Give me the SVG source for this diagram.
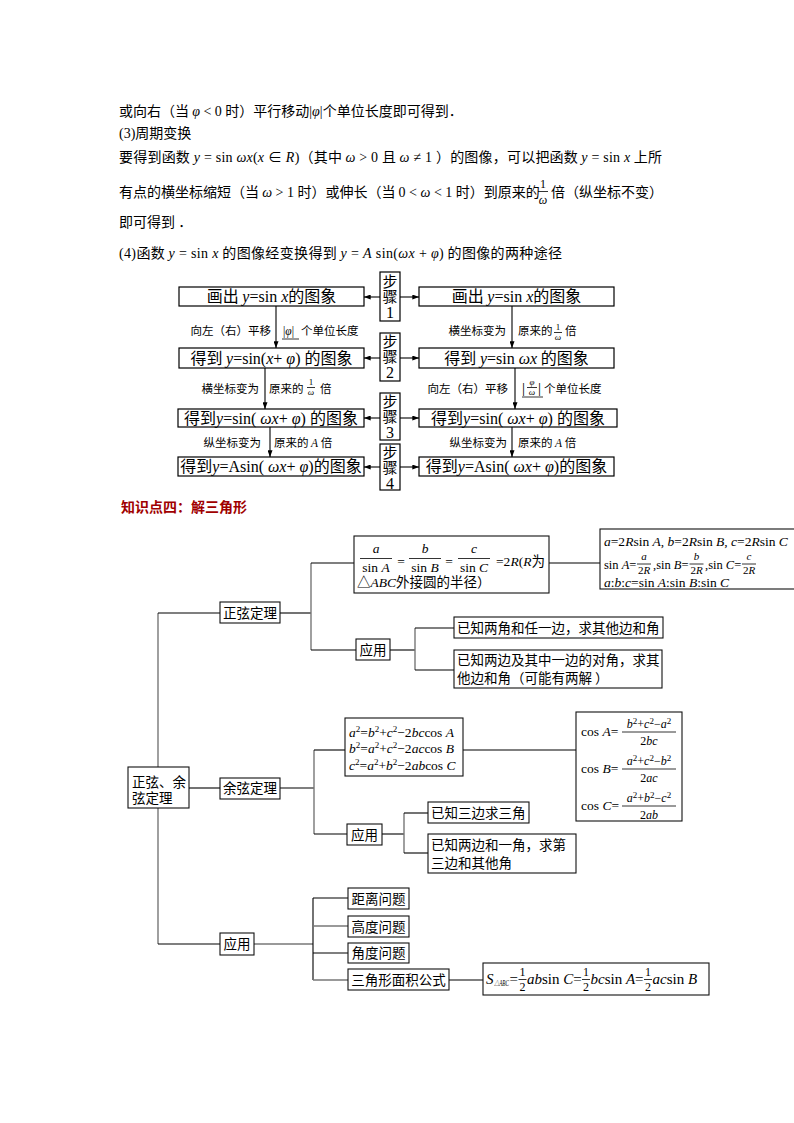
<svg xmlns="http://www.w3.org/2000/svg" width="794" height="1123" viewBox="0 0 794 1123">
<defs>
<style>
text { font-family: "Noto Sans CJK SC", sans-serif; fill:#000; }
.m { font-family: "Liberation Serif", "Noto Sans CJK SC", serif; }
.i { font-style: italic; }
.body { font-size:14px; }
.fb { font-size:16px; }
.st { font-size:15px; }
.stn { font-size:16px; font-family: "Liberation Serif", serif; }
.lb { font-size:11.5px; }
.fr { font-size:9px; font-family: "Liberation Serif", serif; }
.tc { font-size:13.5px; }
.f { font-size:13.5px; font-family: "Liberation Serif", "Noto Sans CJK SC", serif; }
.fs { font-size:12.5px; font-family: "Liberation Serif", serif; }
.fa { font-size:15px; font-family: "Liberation Serif", serif; }
.ff { font-size:12px; font-family: "Liberation Serif", serif; }
.fq { font-size:11px; font-family: "Liberation Serif", serif; }
.sup { font-size:9px; }
.box { fill:#fff; stroke:#000; stroke-width:1.2; }
.tb { fill:#fff; stroke:#111; stroke-width:1.1; }
.ln { stroke:#000; stroke-width:1.1; fill:none; }
.gl { stroke:#777; stroke-width:1.4; fill:none; }
.fl { stroke:#000; stroke-width:0.8; }
.title { font-size:14px; font-weight:bold; fill:#a00000; }
</style>
<marker id="ah" viewBox="0 0 8 6" refX="8" refY="3" markerWidth="7" markerHeight="5" orient="auto" markerUnits="userSpaceOnUse">
<path d="M0,0 L8,3 L0,6 z" fill="#000"/>
</marker>
</defs>
<rect width="794" height="1123" fill="#fff"/>

<g id="body-text">
<text class="body" x="119" y="116">或向右（当 <tspan class="m i">φ</tspan><tspan class="m"> &lt; 0 </tspan>时）平行移动<tspan class="m">|</tspan><tspan class="m i">φ</tspan><tspan class="m">|</tspan>个单位长度即可得到．</text>
<text class="body" x="119" y="138"><tspan class="m">(3)</tspan>周期变换</text>
<text class="body" x="119" y="162" textLength="543" lengthAdjust="spacing">要得到函数<tspan class="m i"> y</tspan><tspan class="m"> = sin </tspan><tspan class="m i">ωx</tspan><tspan class="m">(</tspan><tspan class="m i">x</tspan><tspan class="m"> ∈ </tspan><tspan class="m i">R</tspan><tspan class="m">)</tspan>（其中 <tspan class="m i">ω</tspan><tspan class="m"> &gt; 0 </tspan>且 <tspan class="m i">ω</tspan><tspan class="m"> ≠ 1 </tspan>）的图像，可以把函数 <tspan class="m i">y</tspan><tspan class="m"> = sin </tspan><tspan class="m i">x</tspan> 上所</text>
<text class="body" x="119" y="197">有点的横坐标缩短（当 <tspan class="m i">ω</tspan><tspan class="m"> &gt; 1 </tspan>时）或伸长（当 <tspan class="m">0 &lt; </tspan><tspan class="m i">ω</tspan><tspan class="m"> &lt; 1 </tspan>时）到原来的</text>
<text class="m" font-size="12" x="543" y="188" text-anchor="middle">1</text>
<line class="fl" x1="538" y1="191.5" x2="548" y2="191.5"/>
<text class="m i" font-size="12" x="543" y="204" text-anchor="middle">ω</text>
<text class="body" x="551" y="197">倍（纵坐标不变）</text>
<text class="body" x="119" y="227">即可得到 ．</text>
<text class="body" x="119" y="258" textLength="443" lengthAdjust="spacing"><tspan class="m">(4)</tspan>函数 <tspan class="m i">y</tspan><tspan class="m"> = sin </tspan><tspan class="m i">x</tspan> 的图像经变换得到 <tspan class="m i">y</tspan><tspan class="m"> = </tspan><tspan class="m i">A</tspan><tspan class="m"> sin(</tspan><tspan class="m i">ωx</tspan><tspan class="m"> + </tspan><tspan class="m i">φ</tspan><tspan class="m">)</tspan> 的图像的两种途径</text>
</g>

<g id="flow-connectors">
<line class="ln" x1="380" y1="297" x2="364" y2="297" marker-end="url(#ah)"/>
<line class="ln" x1="400" y1="297" x2="419" y2="297" marker-end="url(#ah)"/>
<line class="ln" x1="380" y1="358" x2="364" y2="358" marker-end="url(#ah)"/>
<line class="ln" x1="400" y1="358" x2="419" y2="358" marker-end="url(#ah)"/>
<line class="ln" x1="380" y1="418" x2="364" y2="418" marker-end="url(#ah)"/>
<line class="ln" x1="400" y1="418" x2="419" y2="418" marker-end="url(#ah)"/>
<line class="ln" x1="380" y1="467" x2="364" y2="467" marker-end="url(#ah)"/>
<line class="ln" x1="400" y1="467" x2="419" y2="467" marker-end="url(#ah)"/>
<line class="ln" x1="276" y1="306" x2="276" y2="348" marker-end="url(#ah)"/>
<line class="ln" x1="512" y1="306" x2="512" y2="348" marker-end="url(#ah)"/>
<line class="ln" x1="265" y1="368" x2="265" y2="409" marker-end="url(#ah)"/>
<line class="ln" x1="515" y1="368" x2="515" y2="409" marker-end="url(#ah)"/>
<line class="ln" x1="270" y1="427" x2="270" y2="457" marker-end="url(#ah)"/>
<line class="ln" x1="512" y1="427" x2="512" y2="457" marker-end="url(#ah)"/>
</g>

<g id="flow-labels">
<text class="lb" x="271" y="335" text-anchor="end">向左（右）平移</text>
<text class="lb m" x="283" y="335">|<tspan class="i">φ</tspan>|</text>
<line class="fl" x1="282" y1="339" x2="299" y2="339"/>
<text class="lb" x="301" y="335">个单位长度</text>
<text class="lb" x="506" y="335" text-anchor="end">横坐标变为</text>
<text class="lb" x="518" y="335">原来的</text>
<text class="fr" x="558" y="330" text-anchor="middle">1</text>
<line class="fl" x1="554" y1="332.5" x2="562" y2="332.5"/>
<text class="fr i" x="558" y="340" text-anchor="middle">ω</text>
<text class="lb" x="565" y="335">倍</text>

<text class="lb" x="259" y="393" text-anchor="end">横坐标变为</text>
<text class="lb" x="269" y="393">原来的</text>
<text class="fr" x="311" y="385" text-anchor="middle">1</text>
<line class="fl" x1="307" y1="387.5" x2="315" y2="387.5"/>
<text class="fr i" x="311" y="395" text-anchor="middle">ω</text>
<text class="lb" x="320" y="393">倍</text>
<text class="lb" x="508" y="393" text-anchor="end">向左（右）平移</text>
<text class="m" font-size="15" x="522" y="393">|</text>
<text class="fr i" x="532" y="385" text-anchor="middle">φ</text>
<line class="fl" x1="527" y1="387.5" x2="537" y2="387.5"/>
<text class="fr i" x="532" y="395" text-anchor="middle">ω</text>
<text class="m" font-size="15" x="538" y="393">|</text>
<line class="fl" x1="522" y1="397" x2="543" y2="397"/>
<text class="lb" x="544" y="393">个单位长度</text>

<text class="lb" x="261" y="447" text-anchor="end">纵坐标变为</text>
<text class="lb" x="274" y="447">原来的 <tspan class="m i">A</tspan> 倍</text>
<text class="lb" x="507" y="447" text-anchor="end">纵坐标变为</text>
<text class="lb" x="518" y="447">原来的 <tspan class="m i">A</tspan> 倍</text>
</g>

<g id="flow-L1"><rect class="box" x="179" y="287" width="185" height="19"/>
<text class="fb" x="271.5" y="302" text-anchor="middle">画出 <tspan class="m i">y</tspan><tspan class="m">=sin </tspan><tspan class="m i">x</tspan>的图象</text></g>
<g id="flow-R1"><rect class="box" x="419" y="287" width="195" height="19"/>
<text class="fb" x="516.5" y="302" text-anchor="middle">画出 <tspan class="m i">y</tspan><tspan class="m">=sin </tspan><tspan class="m i">x</tspan>的图象</text></g>
<g id="flow-L2"><rect class="box" x="179" y="348" width="185" height="20"/>
<text class="fb" x="271.5" y="364" text-anchor="middle">得到 <tspan class="m i">y</tspan><tspan class="m">=sin(</tspan><tspan class="m i">x</tspan><tspan class="m">+ </tspan><tspan class="m i">φ</tspan><tspan class="m">) </tspan>的图象</text></g>
<g id="flow-R2"><rect class="box" x="419" y="348" width="195" height="20"/>
<text class="fb" x="516.5" y="364" text-anchor="middle">得到 <tspan class="m i">y</tspan><tspan class="m">=sin </tspan><tspan class="m i">ωx</tspan> 的图象</text></g>
<g id="flow-L3"><rect class="box" x="178" y="409" width="186" height="18"/>
<text class="fb" x="271" y="424" text-anchor="middle">得到<tspan class="m i">y</tspan><tspan class="m">=sin( </tspan><tspan class="m i">ωx</tspan><tspan class="m">+ </tspan><tspan class="m i">φ</tspan><tspan class="m">) </tspan>的图象</text></g>
<g id="flow-R3"><rect class="box" x="419" y="409" width="198" height="18"/>
<text class="fb" x="518" y="424" text-anchor="middle">得到<tspan class="m i">y</tspan><tspan class="m">=sin( </tspan><tspan class="m i">ωx</tspan><tspan class="m">+ </tspan><tspan class="m i">φ</tspan><tspan class="m">) </tspan>的图象</text></g>
<g id="flow-L4"><rect class="box" x="178" y="457" width="186" height="19"/>
<text class="fb" x="271" y="472" text-anchor="middle">得到<tspan class="m i">y</tspan><tspan class="m">=Asin( </tspan><tspan class="m i">ωx</tspan><tspan class="m">+ </tspan><tspan class="m i">φ</tspan><tspan class="m">)</tspan>的图象</text></g>
<g id="flow-R4"><rect class="box" x="419" y="457" width="195" height="19"/>
<text class="fb" x="516.5" y="472" text-anchor="middle">得到<tspan class="m i">y</tspan><tspan class="m">=Asin( </tspan><tspan class="m i">ωx</tspan><tspan class="m">+ </tspan><tspan class="m i">φ</tspan><tspan class="m">)</tspan>的图象</text></g>

<g id="step-1"><rect class="box" x="380" y="272" width="20" height="49"/>
<text class="st" x="390" y="287" text-anchor="middle">步</text><text class="st" x="390" y="302" text-anchor="middle">骤</text><text class="stn" x="390" y="318" text-anchor="middle">1</text></g>
<g id="step-2"><rect class="box" x="380" y="333" width="20" height="48"/>
<text class="st" x="390" y="347" text-anchor="middle">步</text><text class="st" x="390" y="362" text-anchor="middle">骤</text><text class="stn" x="390" y="378" text-anchor="middle">2</text></g>
<g id="step-3"><rect class="box" x="380" y="393" width="20" height="47"/>
<text class="st" x="390" y="407" text-anchor="middle">步</text><text class="st" x="390" y="422" text-anchor="middle">骤</text><text class="stn" x="390" y="438" text-anchor="middle">3</text></g>
<g id="step-4"><rect class="box" x="380" y="444" width="20" height="46"/>
<text class="st" x="390" y="458" text-anchor="middle">步</text><text class="st" x="390" y="473" text-anchor="middle">骤</text><text class="stn" x="390" y="489" text-anchor="middle">4</text></g>

<g id="title"><text class="title" x="121" y="512">知识点四：解三角形</text></g>

<g id="tree-connectors">
<line class="gl" x1="158" y1="613" x2="158" y2="944"/>
<line class="ln" x1="158" y1="613" x2="220" y2="613"/>
<line class="ln" x1="189" y1="788" x2="220" y2="788"/>
<line class="ln" x1="158" y1="944" x2="220" y2="944"/>
<line class="ln" x1="280" y1="613" x2="311" y2="613"/>
<line class="gl" x1="311" y1="563" x2="311" y2="650"/>
<line class="ln" x1="311" y1="563" x2="354" y2="563"/>
<line class="ln" x1="311" y1="650" x2="356" y2="650"/>
<line class="ln" x1="549" y1="563" x2="600" y2="563"/>
<line class="ln" x1="390" y1="650" x2="415" y2="650"/>
<line class="gl" x1="415" y1="628" x2="415" y2="670"/>
<line class="ln" x1="415" y1="628" x2="454" y2="628"/>
<line class="ln" x1="415" y1="670" x2="454" y2="670"/>
<line class="ln" x1="280" y1="788" x2="314" y2="788"/>
<line class="gl" x1="314" y1="750" x2="314" y2="834"/>
<line class="ln" x1="314" y1="750" x2="345" y2="750"/>
<line class="ln" x1="314" y1="834" x2="347" y2="834"/>
<line class="ln" x1="463" y1="750" x2="576" y2="750"/>
<line class="ln" x1="382" y1="834" x2="404" y2="834"/>
<line class="gl" x1="404" y1="813" x2="404" y2="853"/>
<line class="ln" x1="404" y1="813" x2="428" y2="813"/>
<line class="ln" x1="404" y1="853" x2="428" y2="853"/>
<line class="gl" x1="254" y1="944" x2="313" y2="944"/>
<line class="ln" x1="313" y1="898" x2="313" y2="980"/>
<line class="ln" x1="313" y1="898" x2="348" y2="898"/>
<line class="gl" x1="313" y1="926" x2="348" y2="926"/>
<line class="ln" x1="313" y1="953" x2="348" y2="953"/>
<line class="gl" x1="313" y1="980" x2="348" y2="980"/>
<line class="ln" x1="449" y1="980" x2="483" y2="980"/>
</g>

<g id="root"><rect class="tb" x="128" y="767" width="61" height="41"/>
<text class="tc" x="132" y="787">正弦、余</text><text class="tc" x="132" y="803">弦定理</text></g>

<g id="sine-law"><rect class="tb" x="220" y="602" width="60" height="21"/>
<text class="tc" x="250" y="617.5" text-anchor="middle">正弦定理</text></g>

<g id="sine-formula"><rect class="tb" x="354" y="536" width="195" height="57"/>
<text class="f i" x="376" y="553" text-anchor="middle">a</text>
<line class="fl" x1="360" y1="558.5" x2="392" y2="558.5"/>
<text class="f" x="376" y="572" text-anchor="middle">sin <tspan class="i">A</tspan></text>
<text class="f" x="401" y="566" text-anchor="middle">=</text>
<text class="f i" x="425" y="553" text-anchor="middle">b</text>
<line class="fl" x1="409" y1="558.5" x2="441" y2="558.5"/>
<text class="f" x="425" y="572" text-anchor="middle">sin <tspan class="i">B</tspan></text>
<text class="f" x="449" y="566" text-anchor="middle">=</text>
<text class="f i" x="474" y="553" text-anchor="middle">c</text>
<line class="fl" x1="458" y1="558.5" x2="490" y2="558.5"/>
<text class="f" x="474" y="572" text-anchor="middle">sin <tspan class="i">C</tspan></text>
<text class="f" x="496" y="566">=2<tspan class="i">R</tspan>(<tspan class="i">R</tspan><tspan font-family="Noto Sans CJK SC">为</tspan></text>
<text class="tc" x="357" y="587"><tspan class="m">△</tspan><tspan class="m i">ABC</tspan>外接圆的半径）</text></g>

<g id="sine-results"><rect class="tb" x="600" y="529" width="210" height="60"/>
<text class="f" x="604" y="546"><tspan class="i">a</tspan>=2<tspan class="i">R</tspan>sin <tspan class="i">A</tspan>, <tspan class="i">b</tspan>=2<tspan class="i">R</tspan>sin <tspan class="i">B</tspan>, <tspan class="i">c</tspan>=2<tspan class="i">R</tspan>sin <tspan class="i">C</tspan></text>
<text class="fs" x="604" y="569">sin <tspan class="i">A</tspan>=</text>
<text class="fq i" x="644" y="560" text-anchor="middle">a</text>
<line class="fl" x1="637" y1="564" x2="651" y2="564"/>
<text class="fq" x="644" y="574" text-anchor="middle">2<tspan class="i">R</tspan></text>
<text class="fs" x="653" y="569">,sin <tspan class="i">B</tspan>=</text>
<text class="fq i" x="696.5" y="560" text-anchor="middle">b</text>
<line class="fl" x1="689.5" y1="564" x2="703.5" y2="564"/>
<text class="fq" x="696.5" y="574" text-anchor="middle">2<tspan class="i">R</tspan></text>
<text class="fs" x="705" y="569">,sin <tspan class="i">C</tspan>=</text>
<text class="fq i" x="749" y="560" text-anchor="middle">c</text>
<line class="fl" x1="742" y1="564" x2="756" y2="564"/>
<text class="fq" x="749" y="574" text-anchor="middle">2<tspan class="i">R</tspan></text>
<text class="f" x="604" y="587"><tspan class="i">a</tspan>:<tspan class="i">b</tspan>:<tspan class="i">c</tspan>=sin <tspan class="i">A</tspan>:sin <tspan class="i">B</tspan>:sin <tspan class="i">C</tspan></text></g>

<g id="sine-app"><rect class="tb" x="356" y="639" width="34" height="21"/>
<text class="tc" x="373" y="654.5" text-anchor="middle">应用</text></g>
<g id="sine-app-1"><rect class="tb" x="454" y="617" width="209" height="21"/>
<text class="tc" x="457" y="632.5">已知两角和任一边，求其他边和角</text></g>
<g id="sine-app-2"><rect class="tb" x="454" y="650" width="208" height="38"/>
<text class="tc" x="457" y="665">已知两边及其中一边的对角，求其</text>
<text class="tc" x="457" y="683">他边和角（可能有两解 ）</text></g>

<g id="cos-law"><rect class="tb" x="220" y="778" width="60" height="21"/>
<text class="tc" x="250" y="793" text-anchor="middle">余弦定理</text></g>

<g id="cos-formula"><rect class="tb" x="345" y="718" width="118" height="58"/>
<text class="f" x="349" y="737"><tspan class="i">a</tspan><tspan class="sup" dy="-5">2</tspan><tspan dy="5">=</tspan><tspan class="i">b</tspan><tspan class="sup" dy="-5">2</tspan><tspan dy="5">+</tspan><tspan class="i">c</tspan><tspan class="sup" dy="-5">2</tspan><tspan dy="5">−2</tspan><tspan class="i">bc</tspan>cos <tspan class="i">A</tspan></text>
<text class="f" x="349" y="753"><tspan class="i">b</tspan><tspan class="sup" dy="-5">2</tspan><tspan dy="5">=</tspan><tspan class="i">a</tspan><tspan class="sup" dy="-5">2</tspan><tspan dy="5">+</tspan><tspan class="i">c</tspan><tspan class="sup" dy="-5">2</tspan><tspan dy="5">−2</tspan><tspan class="i">ac</tspan>cos <tspan class="i">B</tspan></text>
<text class="f" x="349" y="770"><tspan class="i">c</tspan><tspan class="sup" dy="-5">2</tspan><tspan dy="5">=</tspan><tspan class="i">a</tspan><tspan class="sup" dy="-5">2</tspan><tspan dy="5">+</tspan><tspan class="i">b</tspan><tspan class="sup" dy="-5">2</tspan><tspan dy="5">−2</tspan><tspan class="i">ab</tspan>cos <tspan class="i">C</tspan></text></g>

<g id="cos-results"><rect class="tb" x="576" y="712" width="106" height="109"/>
<text class="f" x="581" y="736">cos <tspan class="i">A</tspan>=</text>
<text class="ff" x="649" y="728" text-anchor="middle"><tspan class="i">b</tspan><tspan class="sup" dy="-4">2</tspan><tspan dy="4">+</tspan><tspan class="i">c</tspan><tspan class="sup" dy="-4">2</tspan><tspan dy="4">−</tspan><tspan class="i">a</tspan><tspan class="sup" dy="-4">2</tspan></text>
<line class="fl" x1="622" y1="732" x2="676" y2="732"/>
<text class="ff" x="649" y="745" text-anchor="middle">2<tspan class="i">bc</tspan></text>
<text class="f" x="581" y="773">cos <tspan class="i">B</tspan>=</text>
<text class="ff" x="649" y="765" text-anchor="middle"><tspan class="i">a</tspan><tspan class="sup" dy="-4">2</tspan><tspan dy="4">+</tspan><tspan class="i">c</tspan><tspan class="sup" dy="-4">2</tspan><tspan dy="4">−</tspan><tspan class="i">b</tspan><tspan class="sup" dy="-4">2</tspan></text>
<line class="fl" x1="622" y1="769" x2="676" y2="769"/>
<text class="ff" x="649" y="782" text-anchor="middle">2<tspan class="i">ac</tspan></text>
<text class="f" x="581" y="810">cos <tspan class="i">C</tspan>=</text>
<text class="ff" x="649" y="802" text-anchor="middle"><tspan class="i">a</tspan><tspan class="sup" dy="-4">2</tspan><tspan dy="4">+</tspan><tspan class="i">b</tspan><tspan class="sup" dy="-4">2</tspan><tspan dy="4">−</tspan><tspan class="i">c</tspan><tspan class="sup" dy="-4">2</tspan></text>
<line class="fl" x1="622" y1="806" x2="676" y2="806"/>
<text class="ff" x="649" y="819" text-anchor="middle">2<tspan class="i">ab</tspan></text></g>

<g id="cos-app"><rect class="tb" x="347" y="824" width="35" height="21"/>
<text class="tc" x="364.5" y="839.5" text-anchor="middle">应用</text></g>
<g id="cos-app-1"><rect class="tb" x="428" y="802" width="101" height="21"/>
<text class="tc" x="431" y="817.5">已知三边求三角</text></g>
<g id="cos-app-2"><rect class="tb" x="428" y="834" width="148" height="39"/>
<text class="tc" x="431" y="850">已知两边和一角，求第</text>
<text class="tc" x="431" y="868">三边和其他角</text></g>

<g id="app"><rect class="tb" x="220" y="933" width="34" height="22"/>
<text class="tc" x="237" y="948.5" text-anchor="middle">应用</text></g>
<g id="app-1"><rect class="tb" x="348" y="888" width="61" height="21"/>
<text class="tc" x="378.5" y="903.5" text-anchor="middle">距离问题</text></g>
<g id="app-2"><rect class="tb" x="348" y="916" width="61" height="21"/>
<text class="tc" x="378.5" y="931.5" text-anchor="middle">高度问题</text></g>
<g id="app-3"><rect class="tb" x="348" y="943" width="61" height="20"/>
<text class="tc" x="378.5" y="958" text-anchor="middle">角度问题</text></g>
<g id="app-4"><rect class="tb" x="348" y="969" width="101" height="21"/>
<text class="tc" x="398.5" y="984.5" text-anchor="middle">三角形面积公式</text></g>
<g id="area-formula"><rect class="tb" x="483" y="963" width="226" height="32"/>
<text class="fa i" x="486" y="984">S</text>
<text class="m i" font-size="7.5" x="494" y="986" textLength="15" lengthAdjust="spacingAndGlyphs">△ABC</text>
<text class="fa" x="509.5" y="984">=</text>
<text class="ff" x="522.5" y="976" text-anchor="middle">1</text>
<line class="fl" x1="518.5" y1="979.5" x2="526.5" y2="979.5"/>
<text class="ff" x="522.5" y="991" text-anchor="middle">2</text>
<text class="fa" x="527" y="984"><tspan class="i">ab</tspan>sin <tspan class="i">C</tspan>=</text>
<text class="ff" x="586" y="976" text-anchor="middle">1</text>
<line class="fl" x1="582" y1="979.5" x2="590" y2="979.5"/>
<text class="ff" x="586" y="991" text-anchor="middle">2</text>
<text class="fa" x="590.5" y="984"><tspan class="i">bc</tspan>sin <tspan class="i">A</tspan>=</text>
<text class="ff" x="648" y="976" text-anchor="middle">1</text>
<line class="fl" x1="644" y1="979.5" x2="652" y2="979.5"/>
<text class="ff" x="648" y="991" text-anchor="middle">2</text>
<text class="fa" x="652.5" y="984"><tspan class="i">ac</tspan>sin <tspan class="i">B</tspan></text></g>
</svg>
